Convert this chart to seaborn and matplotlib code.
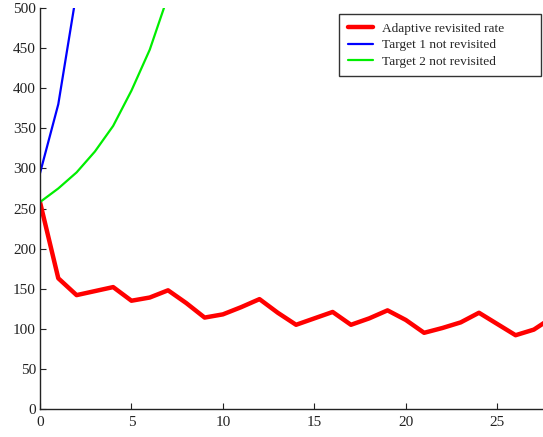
import matplotlib
matplotlib.use('Agg')
import matplotlib.pyplot as plt
import seaborn as sns
import pandas as pd
import numpy as np

# values
adaptive_x = list(range(29))
adaptive_y = [258, 163, 142, 147, 152, 135, 139, 148, 132, 114, 118, 127, 137,
              120, 105, 113, 121, 105, 113, 123, 111, 95, 101, 108, 120, 106,
              92, 99, 114]
target1_x = [0, 1, 2, 3]
target1_y = [294, 380, 520, 700]
target2_x = [0, 1, 2, 3, 4, 5, 6, 7]
target2_y = [258, 275, 295, 321, 353, 397, 448, 515]

x_ticks = [0, 5, 10, 15, 20, 25]
y_ticks = [0, 50, 100, 150, 200, 250, 300, 350, 400, 450, 500]

sns.set_style('ticks')
plt.rcParams['font.family'] = ['Liberation Serif', 'DejaVu Serif']

fig = plt.figure(figsize=(5.43, 4.37), dpi=100)
ax = fig.add_axes([40 / 543, 28 / 437, 503 / 543, 401 / 437])

sns.lineplot(x=adaptive_x, y=adaptive_y, ax=ax, color='#ff0000', linewidth=3.2,
             label='Adaptive revisited rate')
sns.lineplot(x=target1_x, y=target1_y, ax=ax, color='#0000ff', linewidth=1.6,
             label='Target 1 not revisited')
sns.lineplot(x=target2_x, y=target2_y, ax=ax, color='#00ee00', linewidth=1.6,
             label='Target 2 not revisited')

ax.set_xlim(0, 27.5)
ax.set_ylim(0, 500)
ax.set_xticks(x_ticks)
ax.set_yticks(y_ticks)
ax.tick_params(direction='in', length=4, width=0.8, labelsize=11, colors='#222222')
ax.tick_params(axis='x', pad=5)
ax.tick_params(axis='y', pad=3)
ax.set_xlabel('')
ax.set_ylabel('')
for side in ['top', 'right']:
    ax.spines[side].set_visible(False)
for side in ['left', 'bottom']:
    ax.spines[side].set_linewidth(1.0)
    ax.spines[side].set_color('#222222')

# wide gnuplot-style key box with empty space on the right
leg = ax.legend(loc='upper left', bbox_to_anchor=(0.5944, 0.5, 0.4016, 0.485),
                mode='expand', fontsize=9.6, frameon=True, fancybox=False,
                handlelength=1.9, borderpad=0.65, labelspacing=0.3,
                handletextpad=0.7, borderaxespad=0)
leg.get_frame().set_edgecolor('black')
leg.get_frame().set_linewidth(1.0)

fig.savefig('out.png', dpi=100)
